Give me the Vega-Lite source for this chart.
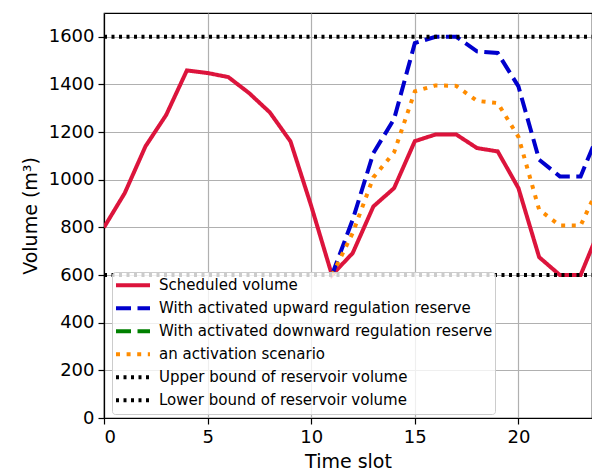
{
  "$schema": "https://vega.github.io/schema/vega-lite/v6.json",
  "width": 488,
  "height": 405,
  "autosize": {"type": "none"},
  "padding": {"left": 104, "top": 13, "right": 0, "bottom": 53},
  "background": "white",
  "config": {
    "font": "DejaVu Sans",
    "view": {"stroke": "black", "strokeWidth": 1.2},
    "axis": {
      "domainColor": "black", "domainWidth": 1.2,
      "tickColor": "black", "tickWidth": 1.2, "tickSize": 6,
      "labelColor": "black", "labelFontSize": 18, "labelFont": "DejaVu Sans",
      "titleColor": "black", "titleFontSize": 19, "titleFont": "DejaVu Sans", "titleFontWeight": "normal",
      "gridColor": "#b0b0b0", "gridWidth": 1.2
    }
  },
  "data": {"values": [
    {"t": 0, "v": 800, "s": "Scheduled volume"},
    {"t": 1, "v": 944, "s": "Scheduled volume"},
    {"t": 2, "v": 1140, "s": "Scheduled volume"},
    {"t": 3, "v": 1272, "s": "Scheduled volume"},
    {"t": 4, "v": 1459, "s": "Scheduled volume"},
    {"t": 5, "v": 1448, "s": "Scheduled volume"},
    {"t": 6, "v": 1431, "s": "Scheduled volume"},
    {"t": 7, "v": 1364, "s": "Scheduled volume"},
    {"t": 8, "v": 1283, "s": "Scheduled volume"},
    {"t": 9, "v": 1161, "s": "Scheduled volume"},
    {"t": 10, "v": 890, "s": "Scheduled volume"},
    {"t": 11, "v": 600, "s": "Scheduled volume"},
    {"t": 12, "v": 692, "s": "Scheduled volume"},
    {"t": 13, "v": 888, "s": "Scheduled volume"},
    {"t": 14, "v": 965, "s": "Scheduled volume"},
    {"t": 15, "v": 1162, "s": "Scheduled volume"},
    {"t": 16, "v": 1190, "s": "Scheduled volume"},
    {"t": 17, "v": 1190, "s": "Scheduled volume"},
    {"t": 18, "v": 1133, "s": "Scheduled volume"},
    {"t": 19, "v": 1119, "s": "Scheduled volume"},
    {"t": 20, "v": 965, "s": "Scheduled volume"},
    {"t": 21, "v": 675, "s": "Scheduled volume"},
    {"t": 22, "v": 600, "s": "Scheduled volume"},
    {"t": 23, "v": 600, "s": "Scheduled volume"},
    {"t": 24, "v": 810, "s": "Scheduled volume"},
    {"t": 11, "v": 600, "s": "With activated upward regulation reserve"},
    {"t": 12, "v": 832, "s": "With activated upward regulation reserve"},
    {"t": 13, "v": 1112, "s": "With activated upward regulation reserve"},
    {"t": 14, "v": 1255, "s": "With activated upward regulation reserve"},
    {"t": 15, "v": 1574, "s": "With activated upward regulation reserve"},
    {"t": 16, "v": 1600, "s": "With activated upward regulation reserve"},
    {"t": 17, "v": 1600, "s": "With activated upward regulation reserve"},
    {"t": 18, "v": 1539, "s": "With activated upward regulation reserve"},
    {"t": 19, "v": 1532, "s": "With activated upward regulation reserve"},
    {"t": 20, "v": 1392, "s": "With activated upward regulation reserve"},
    {"t": 21, "v": 1084, "s": "With activated upward regulation reserve"},
    {"t": 22, "v": 1014, "s": "With activated upward regulation reserve"},
    {"t": 23, "v": 1014, "s": "With activated upward regulation reserve"},
    {"t": 24, "v": 1223, "s": "With activated upward regulation reserve"},
    {"t": 11, "v": 600, "s": "an activation scenario"},
    {"t": 12, "v": 776, "s": "an activation scenario"},
    {"t": 13, "v": 1010, "s": "an activation scenario"},
    {"t": 14, "v": 1115, "s": "an activation scenario"},
    {"t": 15, "v": 1371, "s": "an activation scenario"},
    {"t": 16, "v": 1396, "s": "an activation scenario"},
    {"t": 17, "v": 1394, "s": "an activation scenario"},
    {"t": 18, "v": 1331, "s": "an activation scenario"},
    {"t": 19, "v": 1322, "s": "an activation scenario"},
    {"t": 20, "v": 1180, "s": "an activation scenario"},
    {"t": 21, "v": 874, "s": "an activation scenario"},
    {"t": 22, "v": 808, "s": "an activation scenario"},
    {"t": 23, "v": 808, "s": "an activation scenario"},
    {"t": 24, "v": 995, "s": "an activation scenario"},
    {"t": 0, "v": 1600, "s": "Upper bound of reservoir volume"},
    {"t": 24, "v": 1600, "s": "Upper bound of reservoir volume"},
    {"t": 0, "v": 600, "s": "Lower bound of reservoir volume"},
    {"t": 24, "v": 600, "s": "Lower bound of reservoir volume"}
  ]},
  "mark": {"type": "line", "clip": true, "strokeWidth": 4},
  "encoding": {
    "x": {"field": "t", "type": "quantitative", "title": "Time slot",
      "scale": {"domain": [0, 23.55], "nice": false, "zero": false},
      "axis": {"values": [0, 5, 10, 15, 20], "format": "d", "labelPadding": 4, "titlePadding": 6}},
    "y": {"field": "v", "type": "quantitative", "title": "Volume (m³)",
      "scale": {"domain": [0, 1700], "nice": false},
      "axis": {"values": [0, 200, 400, 600, 800, 1000, 1200, 1400, 1600], "format": "d", "labelPadding": 4, "titlePadding": 8}},
    "color": {"field": "s", "type": "nominal",
      "scale": {
        "domain": ["Scheduled volume", "With activated upward regulation reserve", "With activated downward regulation reserve", "an activation scenario", "Upper bound of reservoir volume", "Lower bound of reservoir volume"],
        "range": ["#DC143C", "#0000CD", "#008000", "#FF8C00", "#000000", "#000000"]},
      "legend": {
        "title": null,
        "orient": "none", "legendX": 8, "legendY": 259,
        "symbolType": "stroke", "symbolStrokeWidth": 4, "symbolSize": 1156,
        "labelFontSize": 15, "labelFont": "DejaVu Sans", "labelColor": "black",
        "labelOffset": 7, "rowPadding": 0, "clipHeight": 22.4,
        "fillColor": "rgba(255,255,255,0.8)", "strokeColor": "#cccccc", "cornerRadius": 3, "padding": 2,
        "labelLimit": 400
      }},
    "strokeDash": {"field": "s", "type": "nominal",
      "scale": {
        "domain": ["Scheduled volume", "With activated upward regulation reserve", "With activated downward regulation reserve", "an activation scenario", "Upper bound of reservoir volume", "Lower bound of reservoir volume"],
        "range": [[1, 0], [15, 6.5], [15, 6.5], [4, 6.6], [3, 4.5], [3, 4.5]]},
      "legend": {
        "title": null,
        "orient": "none", "legendX": 8, "legendY": 259,
        "symbolType": "stroke", "symbolStrokeWidth": 4, "symbolSize": 1156,
        "labelFontSize": 15, "labelFont": "DejaVu Sans", "labelColor": "black",
        "labelOffset": 7, "rowPadding": 0, "clipHeight": 22.4,
        "fillColor": "rgba(255,255,255,0.8)", "strokeColor": "#cccccc", "cornerRadius": 3, "padding": 2,
        "labelLimit": 400
      }}
  }
}
